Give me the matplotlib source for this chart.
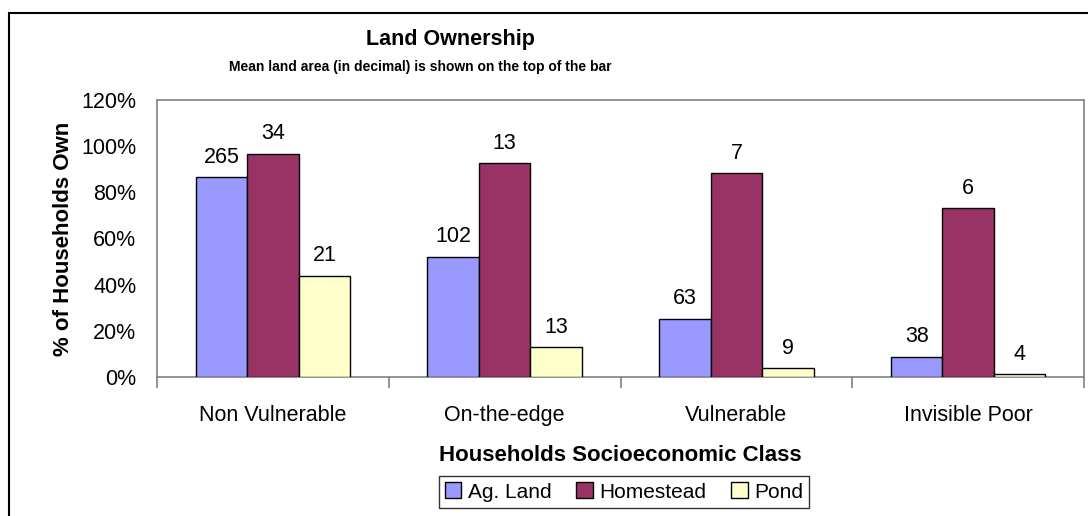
import numpy as np
import matplotlib
matplotlib.use('Agg')
import matplotlib.pyplot as plt
from matplotlib.patches import Rectangle
from matplotlib.ticker import FixedLocator, PercentFormatter

plt.rcParams['font.family'] = ['Liberation Sans', 'DejaVu Sans']

# Classes socioeconomicas e percentual de domicilios que possuem cada tipo de terra
classes = ['Non Vulnerable', 'On-the-edge', 'Vulnerable', 'Invisible Poor']
series = ['Ag. Land', 'Homestead', 'Pond']
pct_ag = [86.5, 51.9, 25.1, 8.8]
pct_home = [96.6, 92.6, 88.2, 73.1]
pct_pond = [43.9, 12.9, 3.8, 1.2]
# area media (decimal) mostrada no topo das barras
area_ag = [265, 102, 63, 38]
area_home = [34, 13, 7, 6]
area_pond = [21, 13, 9, 4]

cores = ['#9999FF', '#993366', '#FFFFCC']

fig = plt.figure(figsize=(10.88, 5.16), dpi=100)
ax = fig.add_axes([157/1088, 1 - 377/516, (1084 - 157)/1088, (377 - 100)/516])

x = np.arange(len(classes))
w = 0.222
pcts = [pct_ag, pct_home, pct_pond]
areas = [area_ag, area_home, area_pond]
for k in range(3):
    barras = ax.bar(x + (k - 1) * w, pcts[k], width=w, color=cores[k],
                    edgecolor='black', linewidth=1.0, label=series[k], zorder=3)
    for b, a in zip(barras, areas[k]):
        ax.annotate(str(a), (b.get_x() + b.get_width() / 2, b.get_height()),
                    xytext=(0, 7), textcoords='offset points',
                    ha='center', va='bottom', fontsize=15.5)

ax.set_xlim(-0.5, 3.5)
ax.set_ylim(0, 120)
ax.yaxis.set_major_locator(FixedLocator([0, 20, 40, 60, 80, 100, 120]))
ax.yaxis.set_major_formatter(PercentFormatter(decimals=0))
ax.tick_params(axis='y', length=0, pad=15, labelsize=15.5)

ax.set_xticks(x)
ax.set_xticklabels(classes)
ax.set_xticks(np.arange(-0.5, 4.0, 1.0), minor=True)
ax.tick_params(axis='x', which='major', length=0, pad=20, labelsize=15.5)
ax.tick_params(axis='x', which='minor', length=8, color='#808080', width=1.2)

for s in ax.spines.values():
    s.set_color('#808080')
    s.set_linewidth(1.2)

ax.set_ylabel('% of Households Own', fontsize=16, fontweight='bold', labelpad=5)
ax.set_xlabel('Households Socioeconomic Class', fontsize=16, fontweight='bold', labelpad=14)

fig.text(450/1088, 1 - 40/516, 'Land Ownership', ha='center', va='center',
         fontsize=15.5, fontweight='bold')
fig.text(420/1088, 1 - 67/516, 'Mean land area (in decimal) is shown on the top of the bar',
         ha='center', va='center', fontsize=10, fontweight='bold')

leg = ax.legend(loc='center', bbox_to_anchor=(624/1088, 1 - 492/516),
                bbox_transform=fig.transFigure, ncol=3, fontsize=15, frameon=True,
                fancybox=False, edgecolor='black', handlelength=0.8, handleheight=0.8,
                handletextpad=0.3, columnspacing=1.2, borderpad=0.3, borderaxespad=0)
leg.get_frame().set_linewidth(1.0)

# moldura externa
fig.patches.append(Rectangle((9/1088, -0.1), 1.2, 1.1 - 13/516, transform=fig.transFigure,
                             fill=False, edgecolor='black', linewidth=1.5))

fig.savefig('out.png', dpi=100)
